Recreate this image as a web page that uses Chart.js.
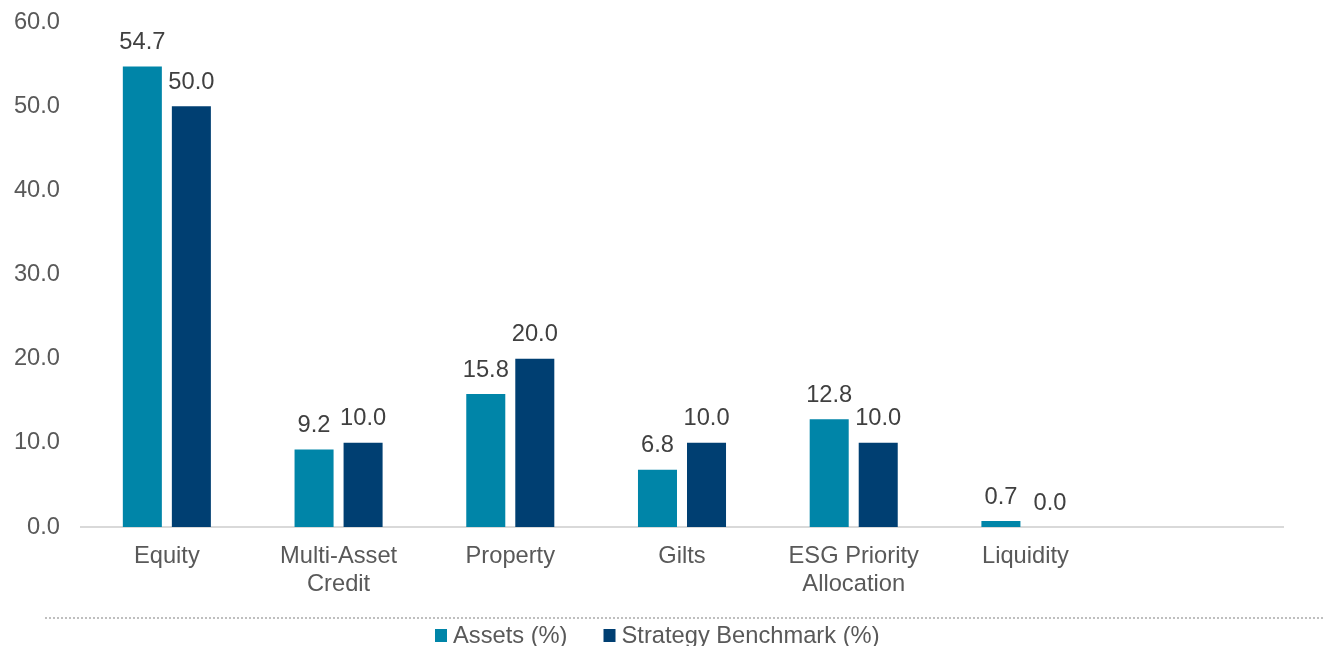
<!DOCTYPE html>
<html>
<head>
<meta charset="utf-8">
<script src="https://cdn.jsdelivr.net/npm/chart.js@4.4.1/dist/chart.umd.min.js"></script>
<style>
  html, body { margin: 0; padding: 0; background: #fff; }
  #wrap { width: 1325px; height: 646px; }
</style>
</head>
<body>
<div id="wrap"><canvas id="allocChart" width="1325" height="646"></canvas></div>
<script>
// categories (last slot is empty in the original)
const categories = ['Equity', ['Multi-Asset', 'Credit'], 'Property', 'Gilts', ['ESG Priority', 'Allocation'], 'Liquidity', ''];
const assets = [54.7, 9.2, 15.8, 6.8, 12.8, 0.7, null];
const benchmark = [50.0, 10.0, 20.0, 10.0, 10.0, 0.0, null];
const seriesNames = ['Assets (%)', 'Strategy Benchmark (%)'];
const seriesColors = ['#0085A8', '#003F72'];
const yTicks = [0, 10, 20, 30, 40, 50, 60];

const FONT = '"Liberation Sans", Arial, sans-serif';
const FSIZE = 23.7;

// value labels above each bar
const barLabels = {
    id: 'barLabels',
    afterDatasetsDraw(chart) {
        const ctx = chart.ctx;
        ctx.save();
        ctx.font = FSIZE + 'px ' + FONT;
        ctx.fillStyle = '#404040';
        ctx.textAlign = 'center';
        ctx.textBaseline = 'middle';
        chart.data.datasets.forEach((ds, i) => {
            chart.getDatasetMeta(i).data.forEach((bar, j) => {
                const v = ds.data[j];
                if (v === null || v === undefined) return;
                ctx.fillText(v.toFixed(1), bar.x, bar.y - 24);
            });
        });
        ctx.restore();
    }
};

// dotted separator + legend at the bottom
const bottomLegend = {
    id: 'bottomLegend',
    afterDraw(chart) {
        const ctx = chart.ctx;
        ctx.save();
        ctx.strokeStyle = '#bfbfbf';
        ctx.lineWidth = 2;
        ctx.setLineDash([2, 2]);
        ctx.beginPath();
        ctx.moveTo(45, 618);
        ctx.lineTo(1325, 618);
        ctx.stroke();
        ctx.setLineDash([]);

        ctx.font = FSIZE + 'px ' + FONT;
        ctx.textBaseline = 'middle';
        ctx.textAlign = 'left';
        let x = 435;
        const y = 636;
        chart.data.datasets.forEach((ds, i) => {
            ctx.fillStyle = ds.backgroundColor;
            ctx.fillRect(x, y - 7, 12, 13);
            ctx.fillStyle = '#595959';
            ctx.fillText(ds.label, x + 18, y);
            x += 18 + ctx.measureText(ds.label).width + 36;
        });
        ctx.restore();
    }
};

const ctx = document.getElementById('allocChart').getContext('2d');
new Chart(ctx, {
    type: 'bar',
    data: {
        labels: categories,
        datasets: [
            { label: seriesNames[0], data: assets, backgroundColor: seriesColors[0] },
            { label: seriesNames[1], data: benchmark, backgroundColor: seriesColors[1] }
        ]
    },
    options: {
        responsive: false,
        animation: false,
        datasets: {
            bar: { categoryPercentage: 0.571, barPercentage: 0.796 }
        },
        layout: { padding: { top: 22, right: 42, left: 0, bottom: 0 } },
        plugins: {
            legend: { display: false },
            tooltip: { enabled: false }
        },
        scales: {
            x: {
                grid: { display: false, drawTicks: false },
                border: { display: true, color: '#d9d9d9', width: 2 },
                ticks: {
                    color: '#595959',
                    font: { family: FONT, size: FSIZE },
                    padding: 15,
                    maxRotation: 0,
                    autoSkip: false
                },
                afterFit: s => { s.height = 119; s.paddingLeft = 0; s.paddingRight = 0; }
            },
            y: {
                min: 0,
                max: 60,
                afterBuildTicks: s => { s.ticks = yTicks.map(v => ({ value: v })); },
                grid: { display: false, drawTicks: false },
                border: { display: false },
                ticks: {
                    color: '#595959',
                    font: { family: FONT, size: FSIZE },
                    padding: 21,
                    callback: v => v.toFixed(1)
                },
                afterFit: s => { s.width = 81; s.paddingTop = 0; s.paddingBottom = 0; }
            }
        }
    },
    plugins: [barLabels, bottomLegend]
});
</script>
</body>
</html>
